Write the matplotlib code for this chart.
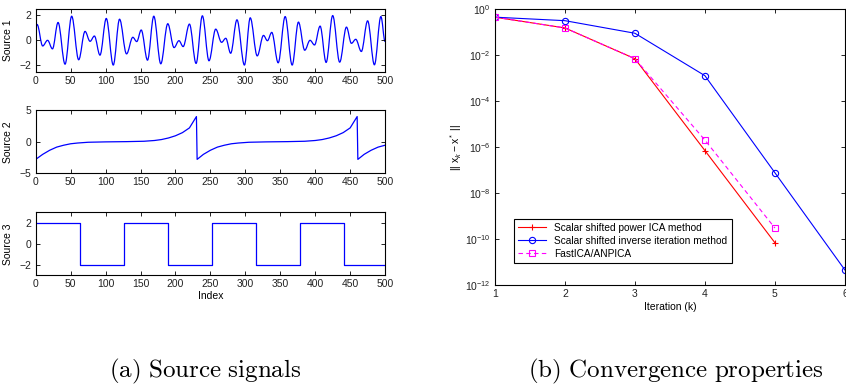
"""Source signals and convergence comparison, two-panel figure."""

import matplotlib
matplotlib.use("Agg")
import matplotlib.pyplot as plt
from matplotlib.path import Path
from matplotlib.patches import PathPatch
from matplotlib.ticker import FixedLocator, NullLocator, LogFormatterMathtext

plt.rcParams['font.family'] = ['Liberation Sans', 'DejaVu Sans']
plt.rcParams['mathtext.fontset'] = 'custom'
plt.rcParams['mathtext.rm'] = 'Liberation Sans'
plt.rcParams['mathtext.it'] = 'Liberation Sans:italic'

# Source 1: peaks and troughs
src1_x = [0, 2, 10, 17, 24, 32, 42, 51.5, 61.5, 70.6, 77.8, 84, 92, 101, 111, 120,
          130, 139, 144.6, 151, 160, 169, 179, 189, 198, 205, 211, 220, 229.5, 238.5,
          248, 257.6, 266, 272, 279, 288, 298.7, 307, 317, 326, 331.6, 337.8, 347,
          357, 367, 376, 385, 392.6, 399, 407, 415.6, 425, 435, 444.7, 451.8, 458,
          466, 475, 484.7, 494, 500]
src1_y = [1.1, 1.26, -0.45, 0.0, -0.68, 1.42, -1.9, 1.92, -1.55, 0.71, -0.08, 0.34,
          -1.18, 1.74, -1.97, 1.68, -1.08, 0.24, -0.1, 0.82, -1.58, 1.92, -1.87, 1.32,
          -0.58, -0.03, -0.5, 1.29, -1.84, 1.95, -1.63, 0.89, -0.16, 0.16, -1.03, 1.63,
          -1.97, 1.79, -1.24, 0.39, -0.03, 0.63, -1.79, 1.89, -1.97, 1.45, -0.79, 0.0,
          -0.37, 1.13, -1.76, 1.97, -1.74, 1.05, -0.24, 0.08, -0.89, 1.55, -1.95, 1.89,
          -0.1]

# Source 2: sawtooth-like curve
src2_x = [0, 10, 20, 30, 40, 50, 60, 75, 100, 115, 130, 155, 170, 180, 190, 200, 210,
          220, 230,
          231, 240, 250, 260, 270, 280, 290, 305, 330, 345, 360, 385, 400, 410, 420,
          430, 440, 450, 460,
          461, 470, 480, 490, 500]
src2_y = [-2.8, -2.0, -1.35, -0.85, -0.55, -0.32, -0.2, -0.08, -0.02, 0.0, 0.02, 0.08,
          0.2, 0.35, 0.6, 0.95, 1.45, 2.2, 4.0,
          -2.8, -2.0, -1.35, -0.85, -0.55, -0.32, -0.2, -0.08, -0.02, 0.0, 0.02, 0.08,
          0.2, 0.35, 0.6, 0.95, 1.45, 2.2, 4.0,
          -2.8, -2.0, -1.35, -0.85, -0.55]

# Source 3: square wave, switch points and levels
src3_x = [0, 63, 126, 189, 252, 315, 378, 441, 500]
src3_y = [2, -2, 2, -2, 2, -2, 2, -2, -2]

# Convergence errors per iteration
iters = [1, 2, 3, 4, 5, 6]
err_power = [0.44, 0.15, 0.0069, 7e-7, 6.9e-11]
err_inverse = [0.44, 0.31, 0.088, 1.26e-3, 7.6e-8, 4.5e-12]
err_fastica = [0.44, 0.15, 0.0069, 2e-6, 3e-10]

BLUE = (0, 0, 1)
TICK_SIZE = 7.5
LABEL_X = -0.066


def matlab_style(ax):
    ax.tick_params(direction='in', top=True, right=True, labelsize=TICK_SIZE,
                   length=3, width=0.6, pad=3, labelcolor='#222222')
    for sp in ax.spines.values():
        sp.set_linewidth(0.8)


def smooth_through_extrema(ax, xs, ys, **kw):
    """Join extrema with flat-tangent bezier pieces so it reads like a wave."""
    verts = [(xs[0], ys[0])]
    codes = [Path.MOVETO]
    for x0, y0, x1, y1 in zip(xs[:-1], ys[:-1], xs[1:], ys[1:]):
        dx = (x1 - x0) * 0.36
        verts += [(x0 + dx, y0), (x1 - dx, y1), (x1, y1)]
        codes += [Path.CURVE4] * 3
    ax.add_patch(PathPatch(Path(verts, codes), fill=False, **kw))


fig = plt.figure(figsize=(8.46, 3.85), dpi=100)

ax1 = fig.add_axes([0.0422, 0.8138, 0.413, 0.163])
ax2 = fig.add_axes([0.0422, 0.5500, 0.413, 0.1636])
ax3 = fig.add_axes([0.0422, 0.2849, 0.413, 0.1636])
ax4 = fig.add_axes([0.585, 0.2597, 0.4137, 0.717])

smooth_through_extrema(ax1, src1_x, src1_y, edgecolor=BLUE, lw=0.9)
ax1.set_ylim(-2.5, 2.5)
ax1.set_yticks([-2, 0, 2])
ax1.set_ylabel('Source 1', fontsize=TICK_SIZE)

ax2.plot(src2_x, src2_y, color=BLUE, lw=0.9)
ax2.set_ylim(-5, 5)
ax2.set_yticks([-5, 0, 5])
ax2.set_ylabel('Source 2', fontsize=TICK_SIZE)

ax3.step(src3_x, src3_y, where='post', color=BLUE, lw=0.9)
ax3.set_ylim(-3, 3)
ax3.set_yticks([-2, 0, 2])
ax3.set_ylabel('Source 3', fontsize=TICK_SIZE)
ax3.set_xlabel('Index', fontsize=TICK_SIZE, labelpad=1)

for ax in (ax1, ax2, ax3):
    ax.set_xlim(0, 500)
    ax.set_xticks(range(0, 501, 50))
    ax.yaxis.set_label_coords(LABEL_X, 0.5)
    matlab_style(ax)

ax4.semilogy(iters[:5], err_power, color='red', lw=0.8, marker='+', ms=5,
             mew=0.8, label='Scalar shifted power ICA method')
ax4.semilogy(iters, err_inverse, color=BLUE, lw=0.8, marker='o', ms=4.5,
             mfc='none', mew=0.8, label='Scalar shifted inverse iteration method')
ax4.semilogy(iters[:5], err_fastica, color='magenta', lw=0.8, ls=(0, (4, 3)),
             marker='s', ms=3.8, mfc='none', mew=0.8, label='FastICA/ANPICA')
ax4.set_xlim(1, 6)
ax4.set_ylim(1e-12, 1)
ax4.set_xticks(iters)
ax4.yaxis.set_major_locator(FixedLocator([10.0 ** k for k in range(-12, 1, 2)]))
ax4.yaxis.set_major_formatter(LogFormatterMathtext())
ax4.yaxis.set_minor_locator(NullLocator())
ax4.set_xlabel('Iteration (k)', fontsize=TICK_SIZE, labelpad=2)
ax4.set_ylabel(r'$||\ \mathrm{x}_k - \mathrm{x}^*\ ||$', fontsize=TICK_SIZE, labelpad=1)
matlab_style(ax4)

leg = ax4.legend(loc='lower left', bbox_to_anchor=(0.054, 0.08), fontsize=7.3,
                 fancybox=False, framealpha=1, edgecolor='black', borderaxespad=0,
                 handlelength=2.8, borderpad=0.4, labelspacing=0.3)
leg.get_frame().set_linewidth(0.8)

fig.text(0.2423, 0.035, r'$\mathrm{(a)\ Source\ signals}$', fontsize=18,
         ha='center', va='center', math_fontfamily='cm')
fig.text(0.7990, 0.035, r'$\mathrm{(b)\ Convergence\ properties}$', fontsize=18,
         ha='center', va='center', math_fontfamily='cm')

fig.savefig('out.png', dpi=100)
